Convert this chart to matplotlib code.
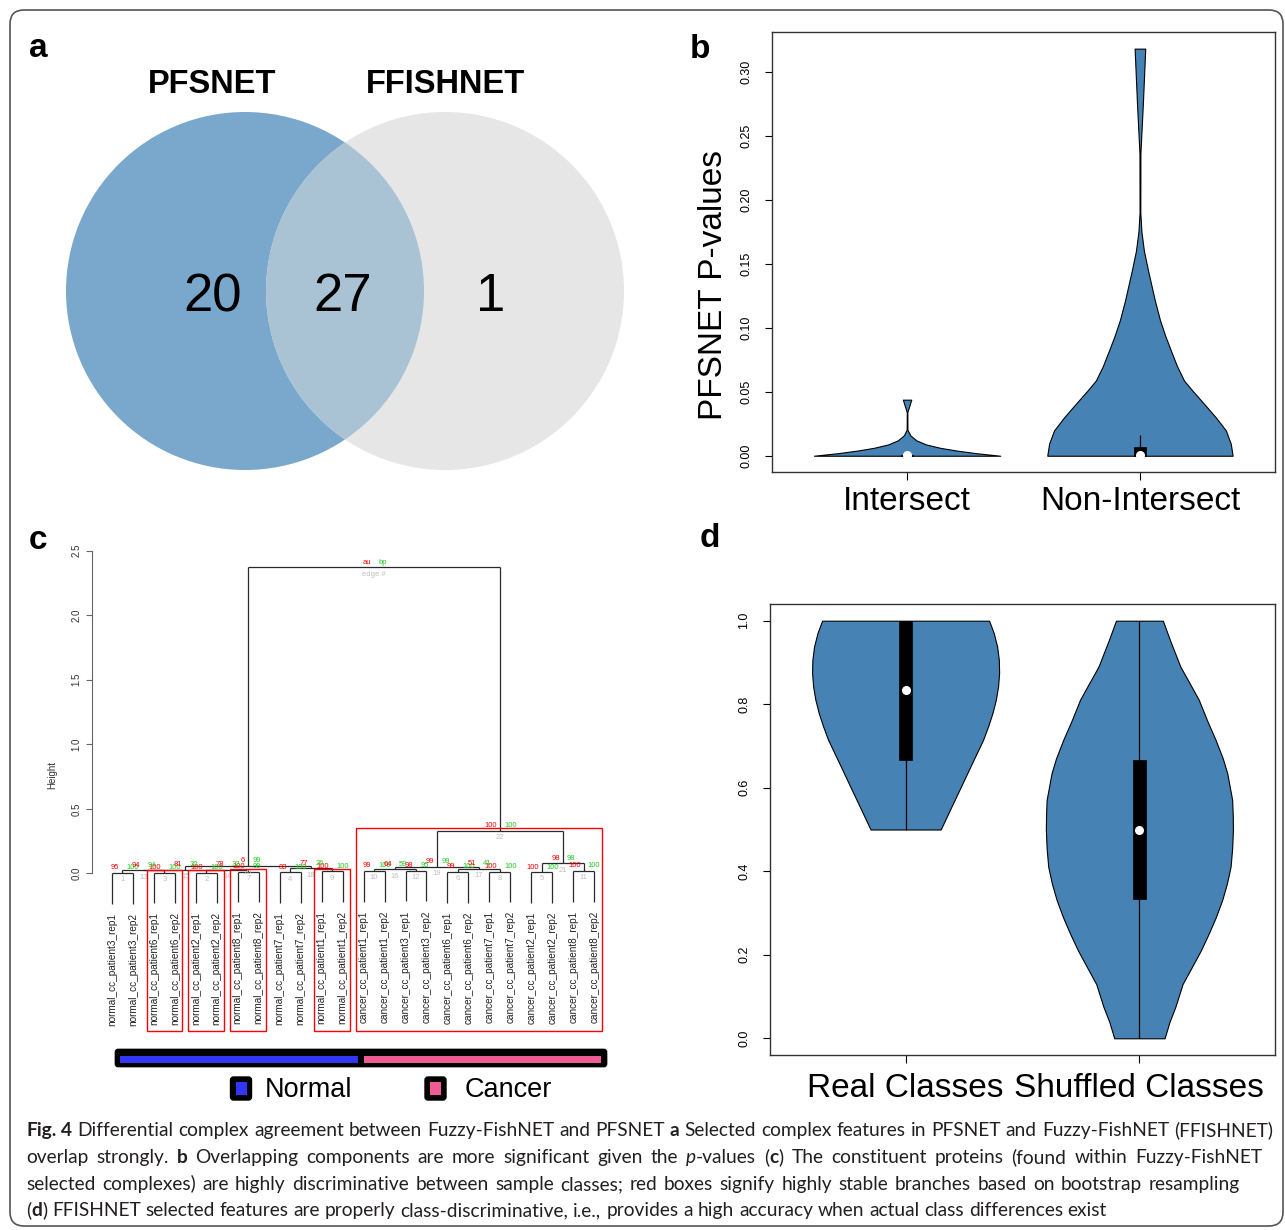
import numpy as np
import matplotlib
matplotlib.use('Agg')
import matplotlib.pyplot as plt
from matplotlib.patches import Circle, Rectangle, FancyBboxPatch

# ------------------------------------------------------------------ data
venn_names = ['PFSNET', 'FFISHNET']
venn_counts = [20, 27, 1]          # PFSNET only, both, FFISHNET only

# panel b : violin profiles (value, relative density) and box stats
b_labels = ['Intersect', 'Non-Intersect']
b_int_val = [0.0, 0.002, 0.0041, 0.0062, 0.0088, 0.012, 0.0159, 0.0203, 0.034, 0.0438]
b_int_den = [1.0, 0.742, 0.527, 0.355, 0.204, 0.100, 0.035, 0.004, 0.003, 0.045]
b_non_val = [0.0, 0.0094, 0.0198, 0.030, 0.0406, 0.051, 0.0588, 0.07, 0.082, 0.094, 0.106,
             0.121, 0.145, 0.16, 0.175, 0.19, 0.236, 0.276, 0.318]
b_non_den = [0.995, 0.975, 0.922, 0.814, 0.688, 0.562, 0.473, 0.398, 0.333, 0.27, 0.215,
             0.161, 0.086, 0.043, 0.016, 0.004, 0.005, 0.032, 0.057]
b_q1 = [0.0, 0.0]
b_med = [0.0004, 0.0009]
b_q3 = [0.0008, 0.0065]
b_lo = [0.0, 0.0]
b_hi = [0.0015, 0.0164]

# panel d
d_labels = ['Real Classes', 'Shuffled Classes']
d_real_val = [0.5, 0.55, 0.6, 0.65, 0.715, 0.747, 0.779, 0.811, 0.843, 0.875, 0.906,
              0.938, 0.970, 1.0]
d_real_den = [0.375, 0.480, 0.586, 0.691, 0.829, 0.882, 0.929, 0.965, 0.989, 1.0, 0.997,
              0.979, 0.943, 0.893]
d_shuf_val = [0.0, 0.04, 0.075, 0.13, 0.171, 0.21, 0.251, 0.29, 0.331, 0.37, 0.411, 0.455,
              0.499, 0.535, 0.571, 0.635, 0.67, 0.715, 0.76, 0.811, 0.85, 0.890, 0.95, 1.0]
d_shuf_den = [0.269, 0.323, 0.384, 0.462, 0.562, 0.656, 0.742, 0.817, 0.885, 0.935, 0.975,
              0.992, 1.0, 0.998, 0.992, 0.939, 0.892, 0.814, 0.726, 0.634, 0.538, 0.438,
              0.333, 0.251]
d_q1 = [0.667, 0.333]
d_med = [0.833, 0.5]
d_q3 = [1.0, 0.667]
d_lo = [0.5, 0.0]
d_hi = [1.0, 1.0]

# panel c : dendrogram (hclust-style merges, negative = leaf index+1)
leaf_labels = ['normal_cc_patient3_rep1', 'normal_cc_patient3_rep2',
               'normal_cc_patient6_rep1', 'normal_cc_patient6_rep2',
               'normal_cc_patient2_rep1', 'normal_cc_patient2_rep2',
               'normal_cc_patient8_rep1', 'normal_cc_patient8_rep2',
               'normal_cc_patient7_rep1', 'normal_cc_patient7_rep2',
               'normal_cc_patient1_rep1', 'normal_cc_patient1_rep2',
               'cancer_cc_patient1_rep1', 'cancer_cc_patient1_rep2',
               'cancer_cc_patient3_rep1', 'cancer_cc_patient3_rep2',
               'cancer_cc_patient6_rep1', 'cancer_cc_patient6_rep2',
               'cancer_cc_patient7_rep1', 'cancer_cc_patient7_rep2',
               'cancer_cc_patient2_rep1', 'cancer_cc_patient2_rep2',
               'cancer_cc_patient8_rep1', 'cancer_cc_patient8_rep2']
merge_pairs = [(-1, -2), (-5, -6), (-3, -4), (-9, -10), (-21, -22), (-17, -18),
               (-7, -8), (-19, -20), (-11, -12), (-13, -14), (-23, -24), (-15, -16),
               (1, 3), (2, 7), (13, 14), (10, 12), (6, 8), (4, 9), (16, 17),
               (15, 18), (5, 11), (19, 21), (20, 22)]
merge_heights = [0.003, 0.005, 0.007, 0.009, 0.010, 0.012, 0.013, 0.015, 0.016, 0.018,
                 0.019, 0.021, 0.023, 0.026, 0.030, 0.032, 0.036, 0.040, 0.050, 0.057,
                 0.078, 0.33, 2.37]
edge_au = [95, 100, 100, 83, 100, 99, 100, 100, 100, 99, 100, 98,
           94, 78, 81, 64, 51, 77, 99, 6, 98, 100]
edge_bp = [100, 100, 100, 100, 100, 100, 99, 100, 100, 100, 100, 95,
           94, 32, 30, 59, 41, 26, 99, 99, 98, 100]
rect_edges = [3, 2, 7, 9, 22]

class_names = ['Normal', 'Cancer']
class_colors = ['#3236F6', '#EE5C94']

# ------------------------------------------------------------------ figure
W, H = 1285, 1230
plt.rcParams['font.family'] = ['Liberation Sans', 'DejaVu Sans']
fig = plt.figure(figsize=(W / 100, H / 100), dpi=100)


def px_axes(x0, y0, x1, y1):
    return fig.add_axes([x0 / W, 1 - y1 / H, (x1 - x0) / W, (y1 - y0) / H])


ov = fig.add_axes([0, 0, 1, 1])
ov.set_xlim(0, W)
ov.set_ylim(H, 0)
ov.axis('off')
ov.patch.set_alpha(0)

# frame
ov.add_patch(FancyBboxPatch((10, 10), 1273, 1216, boxstyle='round,pad=0,rounding_size=14',
                            fc='none', ec='#555555', lw=1.2))

# panel letters
for txt, x, y in [('a', 38, 57), ('b', 700, 58), ('c', 38, 549), ('d', 710, 547)]:
    ov.text(x, y, txt, fontsize=24, fontweight='bold', ha='center', va='baseline')

# ---------------- panel a : Venn
cl = Circle((245, 291), 179, fc='#7AA8CD', ec='none')
cr = Circle((445, 291), 179, fc='#E6E6E6', ec='none')
ov.add_patch(cl)
ov.add_patch(cr)
ci = Circle((245, 291), 179, fc='#A9C3D5', ec='none')
ov.add_patch(ci)
ci.set_clip_path(cr)
ov.text(212, 93, venn_names[0], fontsize=23.5, fontweight='bold', ha='center', va='baseline')
ov.text(445, 93, venn_names[1], fontsize=23.5, fontweight='bold', ha='center', va='baseline')
for v, x in zip(venn_counts, [213, 343, 491]):
    ov.text(x, 311, str(v), fontsize=38, ha='center', va='baseline')


# ---------------- violin helper
def draw_violin(ax, pos, vals, dens, q1, med, q3, lo, hi, scale=0.4, box_hw=0.027):
    v = np.asarray(vals, float)
    d = np.asarray(dens, float) * scale
    ax.fill_betweenx(v, pos - d, pos + d, facecolor='#4682B4', edgecolor='black',
                     linewidth=0.8, zorder=2)
    ax.vlines(pos, lo, hi, color='black', lw=0.9, zorder=3)
    ax.add_patch(Rectangle((pos - box_hw, q1), 2 * box_hw, q3 - q1, fc='black', ec='black',
                           lw=0.5, zorder=4))
    ax.plot([pos], [med], 'o', color='white', ms=5.5, mec='white', zorder=5)


def style_violin_axes(ax):
    for s in ax.spines.values():
        s.set_color('#333333')
        s.set_linewidth(1.0)
    ax.tick_params(axis='y', length=5, width=0.8, pad=9, labelsize=9, labelrotation=90)
    for t in ax.yaxis.get_major_ticks():
        t.label1.set_va('center')
    ax.set_xlim(0.42, 2.58)


# ---------------- panel b
axb = px_axes(772, 32, 1275, 472)
draw_violin(axb, 1, b_int_val, b_int_den, b_q1[0], b_med[0], b_q3[0], b_lo[0], b_hi[0])
draw_violin(axb, 2, b_non_val, b_non_den, b_q1[1], b_med[1], b_q3[1], b_lo[1], b_hi[1])
axb.set_ylim(-0.0127, 0.331)
yt = np.arange(0, 0.301, 0.05)
axb.set_yticks(yt)
axb.set_yticklabels(['%.2f' % t for t in yt])
axb.set_xticks([1, 2])
axb.set_xticklabels(b_labels)
axb.tick_params(axis='x', length=5.5, width=0.8, pad=4.5, labelsize=24)
style_violin_axes(axb)
ov.text(713, 285, 'PFSNET P-values', fontsize=24, rotation=90, ha='center', va='center')

# ---------------- panel d
axd = px_axes(770, 604, 1275, 1055)
draw_violin(axd, 1, d_real_val, d_real_den, d_q1[0], d_med[0], d_q3[0], d_lo[0], d_hi[0])
draw_violin(axd, 2, d_shuf_val, d_shuf_den, d_q1[1], d_med[1], d_q3[1], d_lo[1], d_hi[1])
axd.set_ylim(-0.04, 1.04)
yt = np.arange(0, 1.01, 0.2)
axd.set_yticks(yt)
axd.set_yticklabels(['%.1f' % t for t in yt])
axd.set_xticks([1, 2])
axd.set_xticklabels(d_labels)
axd.tick_params(axis='x', length=5.5, width=0.8, pad=7.5, labelsize=24)
style_violin_axes(axd)

# ---------------- panel c : dendrogram
axc = px_axes(92, 530, 615, 1031)
y_bot = -1.22
axc.set_xlim(-0.95, 23.99)
axc.set_ylim(y_bot, 2.66)
for s in ['top', 'right', 'bottom']:
    axc.spines[s].set_visible(False)
axc.spines['left'].set_bounds(0, 2.5)
axc.spines['left'].set_color('#666666')
axc.set_xticks([])
yt = np.arange(0, 2.51, 0.5)
axc.set_yticks(yt)
axc.set_yticklabels(['%.1f' % t for t in yt])
axc.tick_params(axis='y', length=4.3, width=0.8, color='#666666', pad=3.4, labelsize=7,
                labelrotation=90, labelcolor='#333333')
for t in axc.yaxis.get_major_ticks():
    t.label1.set_va('center')
axc.text(-0.0765, 0.51, 'Height', transform=axc.transAxes, rotation=90, fontsize=7,
         ha='center', va='center', color='#333333')

hang = 0.1 * max(merge_heights)
node_x, node_h, node_leaves = {}, {}, {}
lc = '#2a2a2a'
for k, (a, b) in enumerate(merge_pairs):
    e = k + 1
    h = merge_heights[k]
    xs, lv = [], []
    for c in (a, b):
        if c < 0:
            xc = -c - 1
            hb = h - hang
            lv.append(xc)
            axc.text(xc, hb - 0.07, leaf_labels[xc], rotation=90, ha='center', va='top',
                     fontsize=7.2, color='#222222')
        else:
            xc = node_x[c]
            hb = node_h[c]
            lv.extend(node_leaves[c])
        axc.plot([xc, xc], [hb, h], color=lc, lw=0.9, solid_capstyle='butt')
        xs.append(xc)
    axc.plot(xs, [h, h], color=lc, lw=0.9, solid_capstyle='butt')
    node_x[e] = sum(xs) / 2
    node_h[e] = h
    node_leaves[e] = lv

fs_pv = 5.5
for k in range(len(edge_au)):
    e = k + 1
    x, h = node_x[e], node_h[e]
    axc.text(x - 0.15, h + 0.04, str(edge_au[k]), color='#FF0000', fontsize=fs_pv,
             ha='right', va='center')
    axc.text(x + 0.2, h + 0.04, str(edge_bp[k]), color='#22CC22', fontsize=fs_pv,
             ha='left', va='center')
    axc.text(x, h - 0.025, str(e), color='#BEBEBE', fontsize=fs_pv, ha='center', va='top')
root = len(merge_pairs)
xr, hr = node_x[root], node_h[root]
axc.text(xr - 0.15, hr + 0.04, 'au', color='#FF0000', fontsize=fs_pv, ha='right', va='center')
axc.text(xr + 0.2, hr + 0.04, 'bp', color='#22CC22', fontsize=fs_pv, ha='left', va='center')
axc.text(xr, hr - 0.025, 'edge #', color='#BEBEBE', fontsize=fs_pv, ha='center', va='top')

for e in rect_edges:
    lv = node_leaves[e]
    x0, x1 = min(lv) - 0.35, max(lv) + 0.35
    top = node_h[e] + 0.02
    axc.add_patch(Rectangle((x0, y_bot), x1 - x0, top - y_bot, fill=False, ec='#FF0000',
                            lw=1.0, clip_on=False, zorder=5))

# class bar and legend
leaf_class = ['Normal' if s.startswith('normal') else 'Cancer' for s in leaf_labels]
counts = [leaf_class.count(c) for c in class_names]
ov.add_patch(FancyBboxPatch((115, 1049), 492, 18, boxstyle='round,pad=0,rounding_size=3',
                            fc='black', ec='black', lw=0.5))
inner_l, inner_r, gap = 120, 601, 6
avail = inner_r - inner_l - gap * (len(counts) - 1)
xcur = inner_l
for cnt, col in zip(counts, class_colors):
    wseg = avail * cnt / sum(counts)
    ov.add_patch(Rectangle((xcur, 1055.5), wseg, 7, fc=col, ec='none'))
    xcur += wseg + gap

for name, col, bx, tx in zip(class_names, class_colors, [230.5, 425], [265, 465]):
    ov.add_patch(FancyBboxPatch((bx, 1077), 21, 23, boxstyle='round,pad=0,rounding_size=3',
                                fc='black', ec='black'))
    ov.add_patch(Rectangle((bx + 5, 1082), 11, 13, fc=col, ec='none'))
    ov.text(tx, 1097, name, fontsize=19.5, ha='left', va='baseline')

# ---------------- caption
CAPFONT = ['Lato', 'DejaVu Sans']
CAPCOL = '#231F20'
cap_lines = [
    [('Fig. 4', 'bold', 'normal'),
     (' Differential complex agreement between Fuzzy-FishNET and PFSNET ', 'normal', 'normal'),
     ('a', 'bold', 'normal'),
     (' Selected complex features in PFSNET and Fuzzy-FishNET (FFISHNET)', 'normal', 'normal')],
    [('overlap strongly. ', 'normal', 'normal'), ('b', 'bold', 'normal'),
     (' Overlapping components are more significant given the ', 'normal', 'normal'),
     ('p', 'normal', 'italic'), ('-values (', 'normal', 'normal'), ('c', 'bold', 'normal'),
     (') The constituent proteins (found within Fuzzy-FishNET', 'normal', 'normal')],
    [('selected complexes) are highly discriminative between sample classes; red boxes '
      'signify highly stable branches based on bootstrap resampling', 'normal', 'normal')],
    [('(', 'normal', 'normal'), ('d', 'bold', 'normal'),
     (') FFISHNET selected features are properly class-discriminative, i.e., provides a high '
      'accuracy when actual class differences exist', 'normal', 'normal')],
]
cap_right = [1273, 1262, 1240, 1105]
cap_base = [1136, 1163, 1190, 1216]
cap_x0 = 26

renderer = fig.canvas.get_renderer()


def tokenize(segs):
    words = [[]]
    for text, wt, st in segs:
        parts = text.split(' ')
        for i, p in enumerate(parts):
            if i > 0:
                words.append([])
            if p:
                words[-1].append((p, wt, st))
    return [w for w in words if w]


def run_w(s, wt, st, fs):
    t = ov.text(0, 0, s, fontsize=fs, fontweight=wt, fontstyle=st, family=CAPFONT)
    w = t.get_window_extent(renderer).width
    t.remove()
    return w


def line_width(words, fs):
    ww = sum(run_w(s, wt, st, fs) for w in words for (s, wt, st) in w)
    sp = run_w('a a', 'normal', 'normal', fs) - run_w('aa', 'normal', 'normal', fs)
    return ww, sp


tok = [tokenize(l) for l in cap_lines]
ww, sp = line_width(tok[3], 10)
fs_cap = 10 * (cap_right[3] - cap_x0) / (ww + sp * (len(tok[3]) - 1))

for i, words in enumerate(tok):
    ww, sp = line_width(words, fs_cap)
    if i < 3:
        gapw = (cap_right[i] - cap_x0 - ww) / (len(words) - 1)
    else:
        gapw = sp
    x = cap_x0
    for w in words:
        for (s, wt, st) in w:
            ov.text(x, cap_base[i], s, fontsize=fs_cap, fontweight=wt, fontstyle=st,
                    family=CAPFONT, ha='left', va='baseline', color=CAPCOL)
            x += run_w(s, wt, st, fs_cap)
        x += gapw

fig.savefig('out.png', dpi=100)
